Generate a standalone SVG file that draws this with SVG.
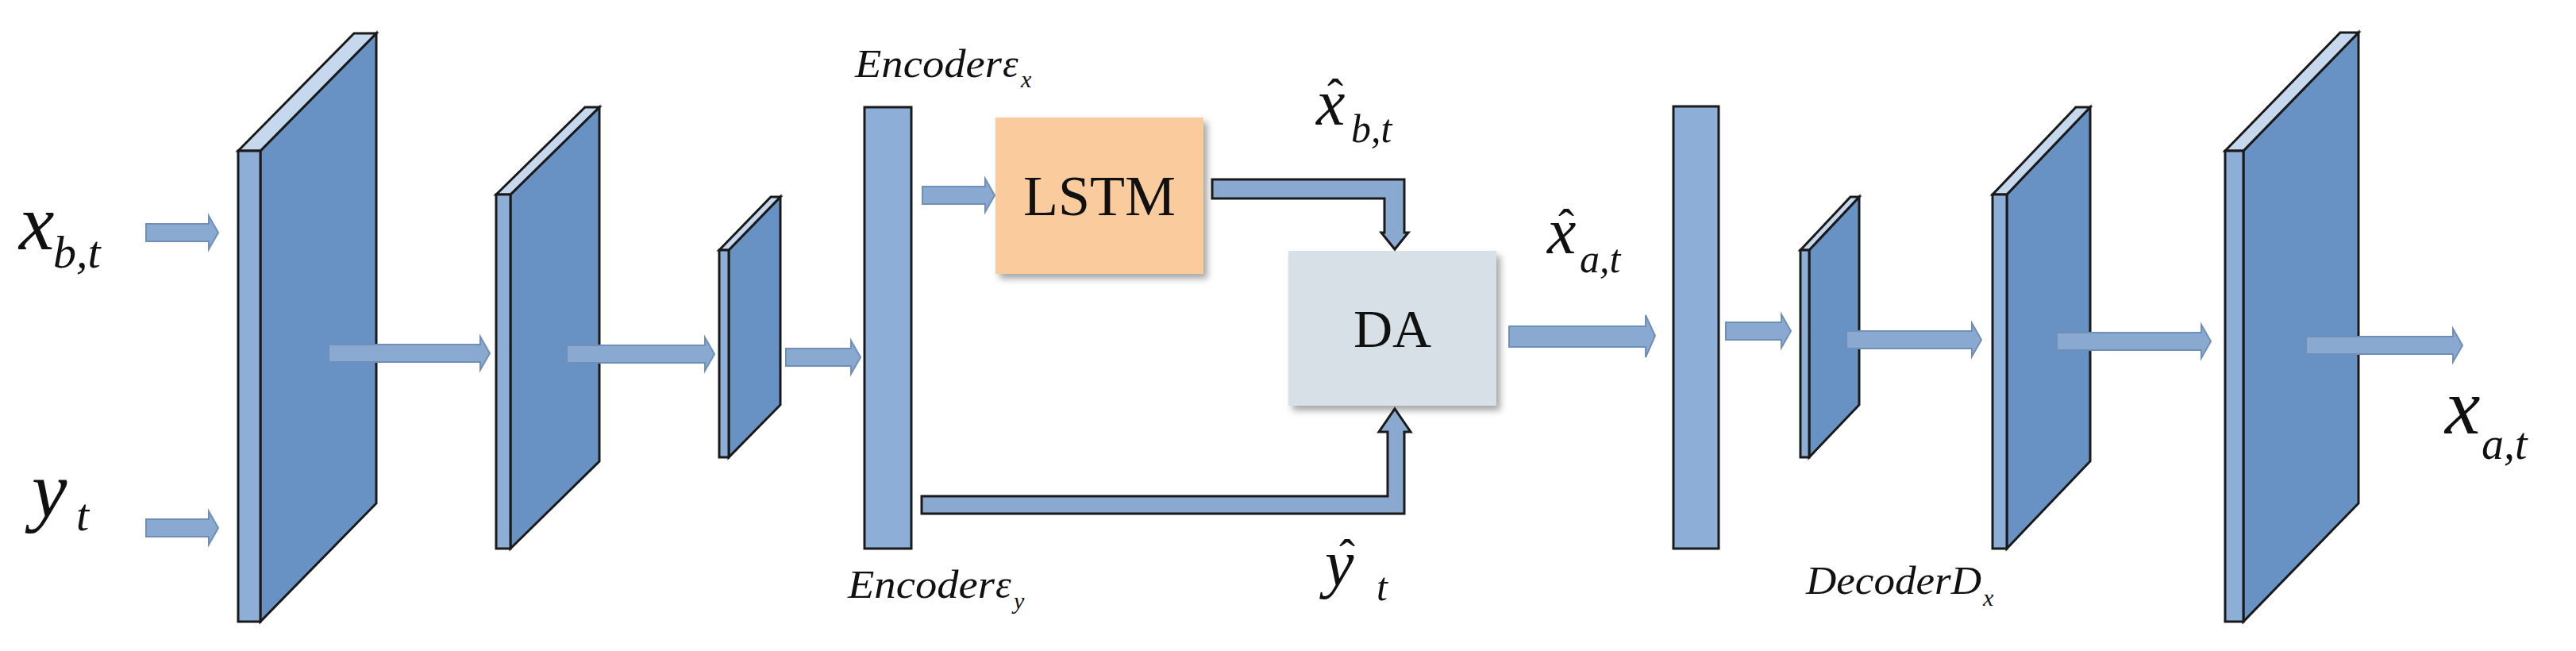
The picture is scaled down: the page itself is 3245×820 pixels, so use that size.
<svg xmlns="http://www.w3.org/2000/svg" width="3245" height="820" viewBox="0 0 3245 820">
<defs>
<style>
.face{fill:#6792C3;stroke:#1a1a1a;stroke-width:3}
.strip{fill:#8DAED6;stroke:#1a1a1a;stroke-width:3}
.top{fill:#C6D8EE;stroke:#1a1a1a;stroke-width:3}
.arr{fill:#89A9D0;stroke:#6F8FB8;stroke-width:2}
.elb{fill:#89A9D0;stroke:#1a1a1a;stroke-width:3}
.it{font-family:"Liberation Serif",serif;font-style:italic;fill:#111}
.hat{font-family:"Liberation Serif",serif;fill:#111;text-anchor:middle}
.rm{font-family:"Liberation Serif",serif;fill:#111;text-anchor:middle}
</style>
<filter id="sh" x="-10%" y="-10%" width="130%" height="130%"><feDropShadow dx="5" dy="6" stdDeviation="4" flood-color="#000" flood-opacity="0.35"/></filter>
</defs>
<rect width="3245" height="820" fill="#fff"/>
<g id="slab1"><polygon class="face" points="328,190 474,42 474,634 328,783"/><polygon class="top" points="300,190 446,42 474,42 328,190"/><rect class="strip" x="300" y="190" width="28" height="593"/></g>
<g id="slab2"><polygon class="face" points="643,245 755,135 755,581 643,691"/><polygon class="top" points="625,245 737,135 755,135 643,245"/><rect class="strip" x="625" y="245" width="18" height="446"/></g>
<g id="slab3"><polygon class="face" points="918,315 983,248 983,510 918,576"/><polygon class="top" points="906,315 971,248 983,248 918,315"/><rect class="strip" x="906" y="315" width="12" height="261"/></g>
<g id="encoder"><rect class="strip" x="1089" y="135" width="59" height="556"/></g>
<g id="lstm"><rect x="1254" y="148" width="262" height="197" fill="#FACB9C" filter="url(#sh)"/><text class="rm" x="1385" y="271" font-size="72">LSTM</text></g>
<g id="da"><rect x="1623" y="316" width="262" height="195" fill="#D7E0E6" filter="url(#sh)"/><text class="rm" x="1754" y="437" font-size="68">DA</text></g>
<g id="latent"><rect class="strip" x="2108" y="134" width="57" height="557"/></g>
<g id="dslab1"><polygon class="face" points="2279,315 2342,248 2342,510 2279,576"/><polygon class="top" points="2268,315 2331,248 2342,248 2279,315"/><rect class="strip" x="2268" y="315" width="11" height="261"/></g>
<g id="dslab2"><polygon class="face" points="2528,245 2633,135 2633,581 2528,691"/><polygon class="top" points="2510,245 2615,135 2633,135 2528,245"/><rect class="strip" x="2510" y="245" width="18" height="446"/></g>
<g id="dslab3"><polygon class="face" points="2826,190 2971,41 2971,634 2826,783"/><polygon class="top" points="2803,190 2948,41 2971,41 2826,190"/><rect class="strip" x="2803" y="190" width="23" height="593"/></g>
<g id="connectors">
<path class="arr" d="M184,282 H263 V272 L275,293 L263,314 V304 H184 Z"/>
<path class="arr" d="M184,654 H263 V644 L275,665 L263,686 V676 H184 Z"/>
<path class="arr" d="M414,434 H605 V424 L617,445 L605,466 V456 H414 Z"/>
<path class="arr" d="M714,435 H888 V425 L900,446 L888,467 V457 H714 Z"/>
<path class="arr" d="M990,439 H1072 V429 L1084,450 L1072,471 V461 H990 Z"/>
<path class="arr" d="M1162,235 H1241 V225 L1253,246 L1241,267 V257 H1162 Z"/>
<path class="elb" d="M1527,226 H1769 V293 H1774 L1757,314 L1740,293 H1744 V250 H1527 Z"/>
<path class="elb" d="M1161,625 H1748 V544 H1737 L1757,515 L1777,544 H1769 V647 H1161 Z"/>
<path class="arr" d="M1901,411 H2073 V397 L2085,423 L2073,450 V437 H1901 Z"/>
<path class="arr" d="M2174,406 H2244 V396 L2256,417 L2244,438 V428 H2174 Z"/>
<path class="arr" d="M2326,417 H2484 V407 L2496,428 L2484,449 V439 H2326 Z"/>
<path class="arr" d="M2591,419 H2773 V409 L2785,430 L2773,451 V441 H2591 Z"/>
<path class="arr" d="M2905,424 H3090 V414 L3102,435 L3090,456 V446 H2905 Z"/>
</g>
<g id="labels">
<text class="it" x="24" y="314" font-size="100">x</text><text class="it" x="67" y="337" font-size="58">b,t</text>
<text class="it" x="40" y="651" font-size="100">y</text><text class="it" x="96" y="668" font-size="58">t</text>
<text class="it" x="1077" y="97" font-size="50" textLength="185" lengthAdjust="spacingAndGlyphs">Encoder</text><text class="it" x="1263" y="97" font-size="50">ε</text><text class="it" x="1286" y="110" font-size="30">x</text>
<text class="it" x="1068" y="753" font-size="50" textLength="185" lengthAdjust="spacingAndGlyphs">Encoder</text><text class="it" x="1254" y="753" font-size="50">ε</text><text class="it" x="1277" y="767" font-size="30">y</text>
<text class="it" x="1658" y="157" font-size="82">x</text><text class="hat" x="1682" y="140" font-size="60">ˆ</text><text class="it" x="1702" y="179" font-size="50">b,t</text>
<text class="it" x="1949" y="319" font-size="82">x</text><text class="hat" x="1973" y="304" font-size="60">ˆ</text><text class="it" x="1990" y="343" font-size="50">a,t</text>
<text class="it" x="1669" y="737" font-size="82">y</text><text class="hat" x="1697" y="720" font-size="60">ˆ</text><text class="it" x="1734" y="756" font-size="50">t</text>
<text class="it" x="2275" y="748" font-size="50" textLength="221" lengthAdjust="spacingAndGlyphs">DecoderD</text><text class="it" x="2498" y="763" font-size="30">x</text>
<text class="it" x="3080" y="546" font-size="100">x</text><text class="it" x="3126" y="578" font-size="56">a,t</text>
</g>
</svg>
